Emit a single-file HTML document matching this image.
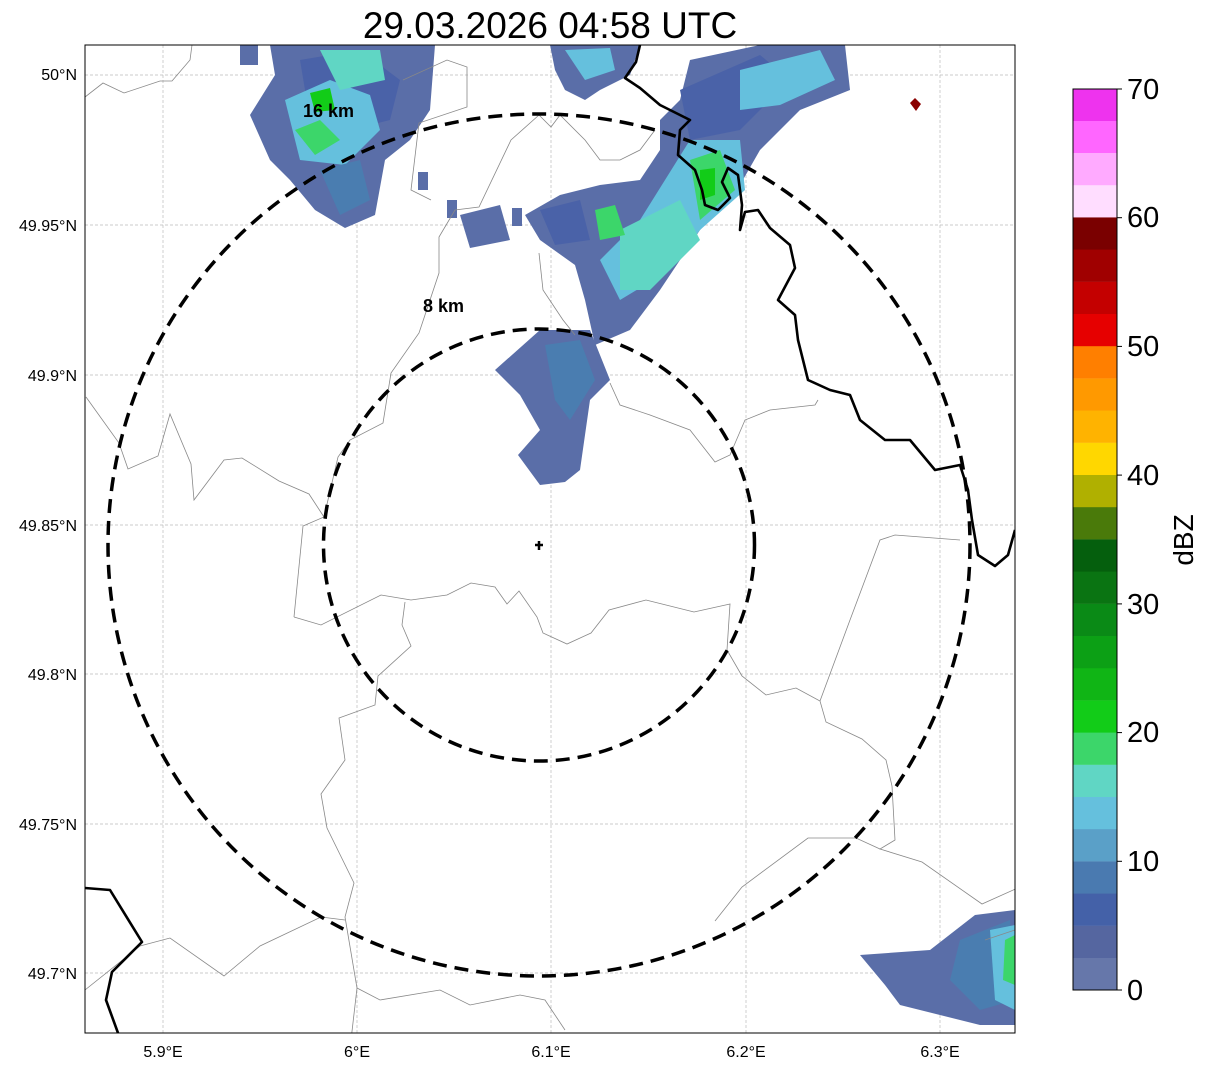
<!DOCTYPE html>
<html><head><meta charset="utf-8"><style>
html,body{margin:0;padding:0;background:#fff;}
svg{display:block;font-family:"Liberation Sans","DejaVu Sans",sans-serif;}
</style></head><body>
<svg width="1207" height="1069" viewBox="0 0 1207 1069" xmlns="http://www.w3.org/2000/svg">
<rect width="1207" height="1069" fill="#fff"/>
<text x="550" y="38" font-size="37" text-anchor="middle" fill="#000">29.03.2026 04:58 UTC</text>
<defs><clipPath id="c"><rect x="85" y="45" width="930" height="988"/></clipPath></defs>
<g clip-path="url(#c)">
<g stroke="#bbb" stroke-width="0.7" stroke-dasharray="3,2">
<line x1="163" y1="45" x2="163" y2="1033"/><line x1="357" y1="45" x2="357" y2="1033"/><line x1="551" y1="45" x2="551" y2="1033"/><line x1="746" y1="45" x2="746" y2="1033"/><line x1="940" y1="45" x2="940" y2="1033"/>
<line x1="85" y1="75" x2="1015" y2="75"/><line x1="85" y1="225" x2="1015" y2="225"/><line x1="85" y1="375" x2="1015" y2="375"/><line x1="85" y1="525" x2="1015" y2="525"/><line x1="85" y1="674" x2="1015" y2="674"/><line x1="85" y1="824" x2="1015" y2="824"/><line x1="85" y1="973" x2="1015" y2="973"/>
</g>
<g>
<polygon fill="#5a6ea8" points="270,45 435,45 430,110 410,140 385,160 375,215 345,228 315,210 290,180 270,160 250,115 275,75"/>
<rect x="240" y="45" width="18" height="20" fill="#5a6ea8"/>
<polygon fill="#4a62a8" points="300,60 360,50 400,80 390,120 350,130 310,120"/>
<polygon fill="#65c0dd" points="285,100 330,80 370,95 380,130 345,165 300,160"/>
<polygon fill="#60d6c4" points="320,50 380,50 385,80 340,90"/>
<polygon fill="#3cd66a" points="295,130 320,120 340,140 315,155"/>
<polygon fill="#12cc18" points="310,93 330,88 335,110 315,112"/>
<polygon fill="#4a7db0" points="320,170 360,160 370,200 340,215"/>
<polygon fill="#5a6ea8" points="550,45 640,45 630,75 600,90 585,100 565,90 555,70"/>
<polygon fill="#65c0dd" points="565,50 610,48 615,70 585,80"/>
<polygon fill="#5a6ea8" points="690,60 760,45 845,45 850,90 800,110 760,150 740,185 700,230 660,290 630,330 595,345 585,300 575,265 540,240 525,215 560,195 600,185 640,180 660,150 660,120 680,100"/>
<polygon fill="#4a62a8" points="680,90 760,55 790,80 740,130 690,140"/>
<polygon fill="#65c0dd" points="740,70 820,50 835,80 780,105 740,110"/>
<polygon fill="#65c0dd" points="690,140 740,140 745,190 700,230 670,270 620,300 600,260 640,220"/>
<polygon fill="#60d6c4" points="620,230 680,200 700,240 650,290 620,290"/>
<polygon fill="#3cd66a" points="690,160 720,150 735,190 700,220"/>
<polygon fill="#12cc18" points="700,170 715,168 715,195 700,200"/>
<polygon fill="#3cd66a" points="595,210 615,205 625,235 600,240"/>
<polygon fill="#4a62a8" points="540,210 580,200 590,240 555,245"/>
<polygon fill="#5a6ea8" points="460,215 500,205 510,240 470,248"/>
<rect x="512" y="208" width="10" height="18" fill="#5a6ea8"/>
<rect x="447" y="200" width="10" height="18" fill="#5a6ea8"/>
<rect x="418" y="172" width="10" height="18" fill="#5a6ea8"/>
<polygon fill="#5a6ea8" points="495,370 540,330 590,330 610,380 590,400 580,470 565,482 540,485 518,455 540,430 520,395"/>
<polygon fill="#4a7db0" points="545,345 580,340 595,380 570,420 555,400"/>
<polygon fill="#5a6ea8" points="860,955 930,950 975,915 1015,910 1015,1025 980,1025 900,1005 885,985"/>
<polygon fill="#4a7db0" points="960,940 1010,920 1015,1000 980,1010 950,980"/>
<polygon fill="#65c0dd" points="990,930 1015,925 1015,1010 995,1000"/>
<polygon fill="#3cd66a" points="1005,940 1015,935 1015,985 1003,980"/>
<polygon fill="#8b0000" points="910,103 915,98 921,104 916,111"/>
</g>
<g fill="none" stroke="#888" stroke-width="0.8">
<polyline points="294,617 321,625 381,595 411,600 447,595 471,583 495,587 507,604 519,591 537,617 543,633 567,644 591,633 609,610 646,600 694,612 730,604 727,650 742,676 766,695 796,688 820,701 826,722 862,739 886,760 892,786 895,840 880,849 922,862 982,904 1020,887"/>
<polyline points="405,602 402,625 411,646 378,676 375,705 339,718 345,760 321,794 327,828 354,883 345,917 357,988 351,1040"/>
<polyline points="85,990 140,946 170,938 224,976 260,946 321,917 345,920"/>
<polyline points="715,921 742,887 808,838 856,838 880,849"/>
<polyline points="86,397 119,443 128,469 158,456 170,414 191,464 194,500 224,460 242,458 279,481 309,494 324,517 303,526 294,617"/>
<polyline points="539,115 511,140 479,207 455,210 439,237 439,273 419,333 391,373 383,423 350,440 338,457 324,517"/>
<polyline points="403,80 447,60 467,67 467,107 419,123 411,190 431,200"/>
<polyline points="539,115 551,127 560,115 585,140 600,160 620,160 640,150 655,130"/>
<polyline points="539,253 543,290 563,320 575,335"/>
<polyline points="85,97 103,83 124,93 160,81 172,81 190,60 192,45"/>
<polyline points="610,383 620,405 650,415 690,430 715,462 730,455 745,420 770,410 815,405 818,400"/>
<polyline points="357,988 380,1000 440,990 470,1005 520,995 545,1000 565,1030"/>
<polyline points="1015,930 985,940"/>
<polyline points="820,701 850,620 880,540 895,535 960,540"/>
</g>
<g fill="none" stroke="#000" stroke-width="2.6" stroke-linejoin="round">
<polyline points="640,45 636,62 625,78 640,88 660,105 680,115 690,120 680,130 678,155 695,170 702,190 705,205 718,210 730,198 722,182 728,168 738,175 742,205 740,230 745,212 758,210 770,228 790,245 795,268 778,300 795,315 798,340 808,380 830,390 850,395 860,420 885,440 910,440 935,470 960,465 968,490 972,520 978,555 995,566 1008,555 1015,530"/>
<polyline points="85,888 110,890 142,942 112,972 106,1000 118,1033"/>
</g>
<g fill="none" stroke="#000" stroke-width="3.5" stroke-dasharray="14,8">
<ellipse cx="539" cy="545" rx="215.5" ry="216"/>
<ellipse cx="539" cy="545" rx="431" ry="431"/>
</g>
<path d="M539,541 v9 M535,545 h8" stroke="#000" stroke-width="2.5"/>
<text x="303" y="117" font-size="18" font-weight="bold">16 km</text>
<text x="423" y="312" font-size="18" font-weight="bold">8 km</text>
</g>
<rect x="85" y="45" width="930" height="988" fill="none" stroke="#000" stroke-width="1"/>
<g font-size="16" fill="#000" text-anchor="middle">
<text x="163" y="1057">5.9°E</text><text x="357" y="1057">6°E</text><text x="551" y="1057">6.1°E</text><text x="746" y="1057">6.2°E</text><text x="940" y="1057">6.3°E</text>
</g>
<g font-size="16" fill="#000" text-anchor="end">
<text x="77" y="80">50°N</text><text x="77" y="231">49.95°N</text><text x="77" y="381">49.9°N</text><text x="77" y="531">49.85°N</text><text x="77" y="680">49.8°N</text><text x="77" y="830">49.75°N</text><text x="77" y="979">49.7°N</text>
</g>
<g>
<rect x="1073" y="957.8" width="44" height="32.4" fill="#6677aa"/>
<rect x="1073" y="925.6" width="44" height="32.4" fill="#5566a0"/>
<rect x="1073" y="893.4" width="44" height="32.4" fill="#4461a8"/>
<rect x="1073" y="861.2" width="44" height="32.4" fill="#4a7ab0"/>
<rect x="1073" y="829" width="44" height="32.4" fill="#5aa0c8"/>
<rect x="1073" y="796.8" width="44" height="32.4" fill="#65c0dd"/>
<rect x="1073" y="764.6" width="44" height="32.4" fill="#60d6c4"/>
<rect x="1073" y="732.4" width="44" height="32.4" fill="#3cd66a"/>
<rect x="1073" y="700.2" width="44" height="32.4" fill="#12cc18"/>
<rect x="1073" y="668" width="44" height="32.4" fill="#10b515"/>
<rect x="1073" y="635.8" width="44" height="32.4" fill="#0ca015"/>
<rect x="1073" y="603.6" width="44" height="32.4" fill="#0a8a16"/>
<rect x="1073" y="571.4" width="44" height="32.4" fill="#0a7412"/>
<rect x="1073" y="539.2" width="44" height="32.4" fill="#055f0d"/>
<rect x="1073" y="507" width="44" height="32.4" fill="#4a7a0a"/>
<rect x="1073" y="474.8" width="44" height="32.4" fill="#b0b000"/>
<rect x="1073" y="442.6" width="44" height="32.4" fill="#ffd700"/>
<rect x="1073" y="410.4" width="44" height="32.4" fill="#ffb300"/>
<rect x="1073" y="378.2" width="44" height="32.4" fill="#ff9900"/>
<rect x="1073" y="346" width="44" height="32.4" fill="#ff7f00"/>
<rect x="1073" y="313.8" width="44" height="32.4" fill="#e60000"/>
<rect x="1073" y="281.6" width="44" height="32.4" fill="#c40000"/>
<rect x="1073" y="249.4" width="44" height="32.4" fill="#a00000"/>
<rect x="1073" y="217.2" width="44" height="32.4" fill="#7a0000"/>
<rect x="1073" y="185" width="44" height="32.4" fill="#ffddff"/>
<rect x="1073" y="152.8" width="44" height="32.4" fill="#ffaaff"/>
<rect x="1073" y="120.6" width="44" height="32.4" fill="#ff66ff"/>
<rect x="1073" y="89" width="44" height="32" fill="#ee33ee"/>
<rect x="1073" y="89" width="44" height="901" fill="none" stroke="#000" stroke-width="1"/>
<g stroke="#000" stroke-width="1">
<line x1="1117" y1="990" x2="1122" y2="990"/><line x1="1117" y1="861.3" x2="1122" y2="861.3"/><line x1="1117" y1="732.6" x2="1122" y2="732.6"/><line x1="1117" y1="603.9" x2="1122" y2="603.9"/><line x1="1117" y1="475.1" x2="1122" y2="475.1"/><line x1="1117" y1="346.4" x2="1122" y2="346.4"/><line x1="1117" y1="217.7" x2="1122" y2="217.7"/><line x1="1117" y1="89" x2="1122" y2="89"/>
</g>
<g font-size="29" fill="#000">
<text x="1127" y="1000">0</text><text x="1127" y="871">10</text><text x="1127" y="742">20</text><text x="1127" y="614">30</text><text x="1127" y="485">40</text><text x="1127" y="356">50</text><text x="1127" y="227">60</text><text x="1127" y="99">70</text>
</g>
<text x="0" y="0" font-size="28" transform="translate(1193,540) rotate(-90)" text-anchor="middle">dBZ</text>
</g>
</svg>
</body></html>
